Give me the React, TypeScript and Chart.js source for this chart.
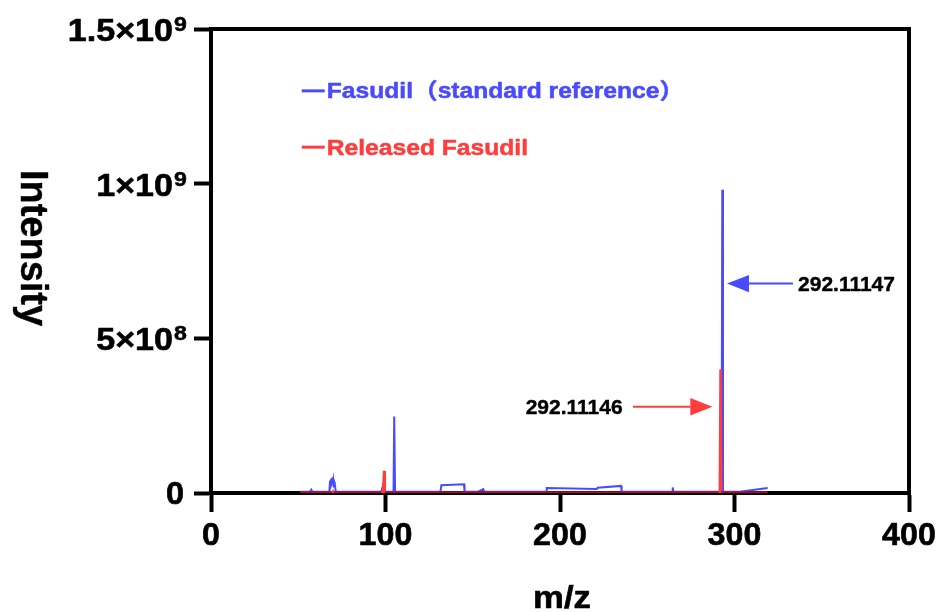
import React, { useEffect, useRef } from "react";
import { Chart, registerables } from "chart.js";

Chart.register(...registerables);

const SANS = '"Liberation Sans", Arial, "Noto Sans CJK SC", sans-serif';

// ---- axis ticks & titles ----
const xTickValues = [0, 100, 200, 300, 400];
const yTickValues = [0, 5e8, 1e9, 1.5e9];
const yTickMantissas = ["0", "5×10", "1×10", "1.5×10"];
const yTickExponents = ["", "8", "9", "9"];
const xTitle = "m/z";
const yTitle = "Intensity";

// ---- series: Fasudil (standard reference) ----
const standardMz = [
  51, 56.5, 57.5, 58, 67.8, 68.2, 68.5, 68.8, 69.1, 69.4, 69.7, 70.0, 70.3, 70.6, 70.9, 71.5, 84,
  97.5, 98.4, 98.9, 104.6, 105, 105.5, 131.5, 132, 145, 145.3, 153, 156, 156.3, 192, 192.4, 221,
  221.5, 235, 235.3, 264.3, 264.6, 265, 292.6, 293, 293.4, 303, 319,
];
const standardIntensity = [
  4e6, 4e6, 1.1e7, 4e6, 4e6, 3.6e7, 3.9e7, 4.2e7, 3.2e7, 3.8e7, 2.8e7, 4e7, 1.8e7, 3.6e7, 3.0e7, 4e6, 4e6,
  5e6, 2e7, 4e6, 4e6, 2.47e8, 4e6, 4e6, 2.5e7, 2.8e7, 4e6, 4e6, 1.2e7, 4e6, 4e6, 1.6e7, 1.3e7,
  1.7e7, 2.3e7, 4e6, 4e6, 1.8e7, 4e6, 4e6, 9.8e8, 4e6, 4e6, 1.6e7,
];

// ---- series: Released Fasudil ----
const releasedMz = [51, 69.5, 70, 70.5, 98.2, 98.8, 99.2, 99.6, 291.6, 292, 292.4, 319];
const releasedIntensity = [0, 0, 5e6, 0, 0, 2.5e7, 7.2e7, 0, 0, 4.0e8, 0, 0];

const seriesLabels = ["Fasudil（standard reference）", "Released Fasudil"];
const seriesColors = ["#4a4aff", "#ff3d3d"];
const baselineColor = "#a3102e";

const peakLabels = ["292.11147", "292.11146"];

// annotation / legend anchors (data units)
const peakNotes = [
  { label: peakLabels[0], color: seriesColors[0], y: 6.77e8, tipMz: 295.7, tailMz: 333.5, textMz: 336.4, side: "right" },
  { label: peakLabels[1], color: seriesColors[1], y: 2.79e8, tipMz: 287.3, tailMz: 241.8, textMz: 235.9, side: "left" },
];
const legendMz = 52;
const legendY = [1.3e9, 1.118e9];

function drawText(ctx: CanvasRenderingContext2D, text: string, x: number, y: number, o: any) {
  ctx.save();
  ctx.font = `bold ${o.size}px ${o.family || SANS}`;
  ctx.fillStyle = o.color || "#000";
  ctx.strokeStyle = o.color || "#000";
  ctx.textBaseline = "alphabetic";
  ctx.translate(x, y);
  if (o.rotate) ctx.rotate(o.rotate);
  ctx.scale(o.scaleX || 1, 1);
  ctx.textAlign = o.align || "left";
  ctx.fillText(text, 0, 0);
  if (o.stroke) {
    ctx.lineWidth = o.stroke;
    ctx.lineJoin = "round";
    ctx.strokeText(text, 0, 0);
  }
  ctx.restore();
}

const overlayPlugin = {
  id: "overlay",
  beforeDatasetsDraw(chart: any) {
    const { ctx, chartArea: a } = chart;
    ctx.save();
    ctx.strokeStyle = "#000";
    ctx.lineWidth = 4;
    ctx.beginPath();
    ctx.moveTo(a.left - 2, a.top);
    ctx.lineTo(a.right, a.top);
    ctx.lineTo(a.right, a.bottom + 2);
    ctx.stroke();
    ctx.restore();
  },
  afterDraw(chart: any) {
    const { ctx, chartArea: a } = chart;
    const xs = chart.scales.x;
    const ys = chart.scales.y;

    // y tick labels
    ys.ticks.forEach((t: any) => {
      const i = yTickValues.indexOf(t.value);
      if (i < 0) return;
      const py = ys.getPixelForValue(t.value);
      if (!yTickExponents[i]) {
        drawText(ctx, yTickMantissas[i], a.left - 27, py + 11, { size: 31, align: "right", scaleX: 1.05, stroke: 0.6 });
      } else {
        drawText(ctx, yTickExponents[i], a.left - 37, py + 2, { size: 21, align: "left", scaleX: 1.1, stroke: 0.5 });
        drawText(ctx, yTickMantissas[i], a.left - 38, py + 12, { size: 31, align: "right", scaleX: 1.1, stroke: 0.6 });
      }
    });

    // x tick labels
    xs.ticks.forEach((t: any) => {
      const px = xs.getPixelForValue(t.value);
      drawText(ctx, String(t.value), px, 545, { size: 31, align: "center", scaleX: 1.04, stroke: 0.6 });
    });

    // axis titles
    drawText(ctx, xTitle, (a.left + a.right) / 2 + 2, 608, { size: 31, align: "center", scaleX: 1.12, stroke: 0.6 });
    drawText(ctx, yTitle, 21, (a.top + a.bottom) / 2 - 13, { size: 38, align: "center", rotate: Math.PI / 2, stroke: 0.4 });

    // legend
    [0, 1].forEach((k) => {
      const lx = xs.getPixelForValue(legendMz);
      const ly = ys.getPixelForValue(legendY[k]);
      ctx.save();
      ctx.strokeStyle = seriesColors[k];
      ctx.lineWidth = 3;
      ctx.beginPath();
      ctx.moveTo(lx, ly);
      ctx.lineTo(lx + 23, ly);
      ctx.stroke();
      ctx.restore();
      drawText(ctx, seriesLabels[k], lx + 25, ly + 7.5, { size: 22, color: seriesColors[k], scaleX: 1.12, stroke: 0.5 });
    });

    // peak annotations
    peakNotes.forEach((n) => {
      const py = ys.getPixelForValue(n.y);
      const tip = xs.getPixelForValue(n.tipMz);
      const tail = xs.getPixelForValue(n.tailMz);
      const dir = tail > tip ? 1 : -1;
      const base = tip + dir * 22;
      ctx.save();
      ctx.strokeStyle = n.color;
      ctx.fillStyle = n.color;
      ctx.lineWidth = 2;
      ctx.beginPath();
      ctx.moveTo(tail, py);
      ctx.lineTo(base, py);
      ctx.stroke();
      ctx.beginPath();
      ctx.moveTo(tip, py);
      ctx.lineTo(base, py - 8.7);
      ctx.lineTo(base, py + 8.7);
      ctx.closePath();
      ctx.fill();
      ctx.restore();
      const tx = xs.getPixelForValue(n.textMz);
      drawText(ctx, n.label, tx, py + 7.5, { size: 21, align: n.side === "right" ? "left" : "right", stroke: 0.4 });
    });
  },
};

export default function App() {
  const ref = useRef<HTMLCanvasElement | null>(null);
  useEffect(() => {
    if (!ref.current) return;
    const axisCommon = (tickLength: number) => ({
      type: "linear" as const,
      ticks: { display: false },
      grid: { display: true, drawOnChartArea: false, drawTicks: true, tickLength, tickWidth: 4, tickColor: "#000" },
      border: { display: true, width: 4, color: "#000" },
    });
    const chart = new Chart(ref.current, {
      type: "scatter",
      data: {
        datasets: [
          {
            label: seriesLabels[1],
            data: releasedMz.map((x, i) => ({ x, y: releasedIntensity[i] })),
            showLine: true,
            borderColor: seriesColors[1],
            borderWidth: 2.5,
            pointRadius: 0,
            tension: 0,
            segment: {
              borderColor: (c: any) => (c.p0.parsed.y === 0 && c.p1.parsed.y === 0 ? baselineColor : undefined),
              borderWidth: (c: any) => (c.p0.parsed.y === 0 && c.p1.parsed.y === 0 ? 3.5 : undefined),
            },
          },
          {
            label: seriesLabels[0],
            data: standardMz.map((x, i) => ({ x, y: standardIntensity[i] })),
            showLine: true,
            borderColor: seriesColors[0],
            borderWidth: 2,
            pointRadius: 0,
            tension: 0,
          },
        ],
      },
      options: {
        responsive: false,
        animation: false,
        devicePixelRatio: 1,
        layout: { padding: { left: 194, right: 32, top: 29, bottom: 100 } },
        plugins: { legend: { display: false }, tooltip: { enabled: false } },
        scales: {
          x: {
            ...axisCommon(19),
            min: 0,
            max: 400,
            afterBuildTicks: (s: any) => {
              s.ticks = xTickValues.map((v) => ({ value: v }));
            },
          },
          y: {
            ...axisCommon(17),
            min: 0,
            max: 1.5e9,
            afterBuildTicks: (s: any) => {
              s.ticks = yTickValues.map((v) => ({ value: v }));
            },
          },
        },
      } as any,
      plugins: [overlayPlugin],
    });
    return () => chart.destroy();
  }, []);
  return (
    <div style={{ position: "fixed", left: 0, top: 0, width: 941, height: 612, background: "#fff" }}>
      <canvas ref={ref} width={941} height={612} style={{ display: "block" }} />
    </div>
  );
}
